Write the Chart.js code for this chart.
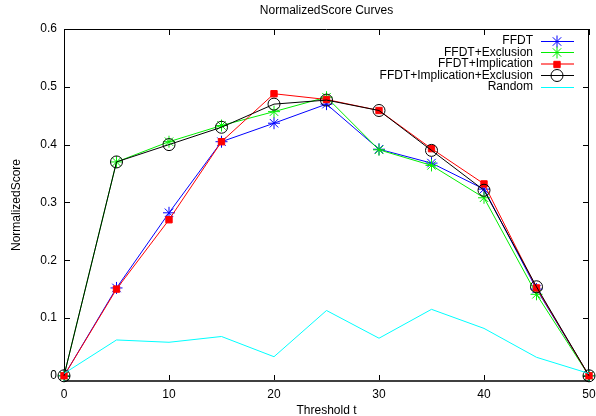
<!DOCTYPE html>
<html>
<head>
<meta charset="utf-8">
<script src="https://cdn.jsdelivr.net/npm/chart.js@4/dist/chart.umd.min.js"></script>
<style>
  html, body { margin: 0; padding: 0; background: #fff; }
</style>
</head>
<body>
<canvas id="scoreChart" width="596" height="416"></canvas>
<script>
// --- data ---
const thresholds = [0, 5, 10, 15, 20, 25, 30, 35, 40, 45, 50];
const ffdt        = [0, 0.152, 0.282, 0.405, 0.437, 0.470, 0.392, 0.368, 0.323, 0.150, 0];
const exclusion   = [0, 0.370, 0.405, 0.433, 0.457, 0.482, 0.391, 0.364, 0.308, 0.141, 0];
const implication = [0, 0.150, 0.270, 0.405, 0.488, 0.478, 0.459, 0.393, 0.332, 0.152, 0];
const implExcl    = [0, 0.370, 0.400, 0.430, 0.470, 0.477, 0.459, 0.390, 0.321, 0.154, 0];
const randomScore = [0.004, 0.062, 0.058, 0.068, 0.033, 0.113, 0.065, 0.115, 0.082, 0.032, 0.004];

const seriesNames = ['FFDT', 'FFDT+Exclusion', 'FFDT+Implication', 'FFDT+Implication+Exclusion', 'Random'];
const xTicks = [0, 10, 20, 30, 40, 50];
const yTicks = [0, 0.1, 0.2, 0.3, 0.4, 0.5, 0.6];

const FONT = '"Liberation Sans", Arial, sans-serif';

function points(values) {
  return thresholds.map((t, i) => ({ x: t, y: values[i] }));
}

function series(i, values, color, style, radius, fill) {
  return {
    label: seriesNames[i],
    data: points(values),
    borderColor: color,
    backgroundColor: fill,
    borderWidth: 1,
    pointStyle: style,
    pointRadius: radius,
    pointBorderColor: color,
    pointBackgroundColor: fill,
    pointBorderWidth: 1,
    tension: 0,
    clip: false,
    order: 5 - i
  };
}

// gnuplot-like frame, inward ticks, title and legend
const framePlugin = {
  id: 'frame',
  beforeDatasetsDraw(chart) {
    const { ctx, chartArea: a, scales } = chart;
    ctx.save();
    ctx.strokeStyle = '#000';
    ctx.lineWidth = 1;
    ctx.beginPath();
    ctx.moveTo(a.left + 0.5, a.bottom);
    ctx.lineTo(a.left + 0.5, a.top + 0.5);
    ctx.lineTo(a.right - 0.5, a.top + 0.5);
    ctx.lineTo(a.right - 0.5, a.bottom);
    xTicks.forEach(v => {
      const px = Math.round(scales.x.getPixelForValue(v)) + 0.5;
      ctx.moveTo(px, a.top); ctx.lineTo(px, a.top + 6);
      ctx.moveTo(px, a.bottom); ctx.lineTo(px, a.bottom - 6);
    });
    yTicks.forEach(v => {
      const py = Math.round(scales.y.getPixelForValue(v)) + 0.5;
      ctx.moveTo(a.left, py); ctx.lineTo(a.left + 6, py);
      ctx.moveTo(a.right, py); ctx.lineTo(a.right - 6, py);
    });
    ctx.stroke();
    ctx.strokeStyle = '#404040';
    ctx.lineWidth = 2;
    ctx.beginPath();
    ctx.moveTo(a.left, a.bottom);
    ctx.lineTo(a.right, a.bottom);
    ctx.stroke();

    ctx.fillStyle = '#000';
    ctx.font = '12px ' + FONT;
    ctx.textAlign = 'center';
    ctx.textBaseline = 'middle';
    ctx.fillText('NormalizedScore Curves', (a.left + a.right) / 2, 11);
    ctx.restore();
  },
  afterDatasetsDraw(chart) {
    const { ctx, chartArea: a } = chart;
    ctx.save();
    ctx.font = '12px ' + FONT;
    ctx.textAlign = 'right';
    ctx.textBaseline = 'middle';
    chart.data.datasets.forEach((ds, i) => {
      const y = 40.7 + i * 11.5;
      const ly = Math.round(y) + 0.5;
      ctx.fillStyle = '#000';
      ctx.fillText(ds.label, a.right - 56, y);
      // the red sample comes out as a wider, softer stroke in the original
      const soft = ds.pointStyle === 'rect';
      ctx.strokeStyle = soft ? 'rgba(255,0,0,0.55)' : ds.borderColor;
      ctx.lineWidth = soft ? 2 : 1;
      ctx.beginPath();
      ctx.moveTo(a.right - 48, soft ? Math.round(y) : ly);
      ctx.lineTo(a.right - 15, soft ? Math.round(y) : ly);
      ctx.stroke();
      if (ds.pointRadius > 0) {
        ctx.strokeStyle = ds.borderColor;
        ctx.lineWidth = 1;
        ctx.fillStyle = ds.pointBackgroundColor;
        Chart.helpers.drawPoint(ctx, {
          pointStyle: ds.pointStyle, radius: ds.pointRadius, rotation: 0, borderWidth: 1
        }, a.right - 32, ly);
      }
    });
    ctx.restore();
  }
};

new Chart(document.getElementById('scoreChart'), {
  type: 'line',
  data: {
    datasets: [
      series(0, ffdt, '#0000ff', 'star', 6, '#0000ff'),
      series(1, exclusion, '#00ee00', 'star', 6, '#00ee00'),
      series(2, implication, '#ff0000', 'rect', 4.5, '#ff0000'),
      series(3, implExcl, '#000000', 'circle', 6, 'rgba(0,0,0,0)'),
      series(4, randomScore, '#00ffff', 'circle', 0, '#00ffff')
    ]
  },
  options: {
    responsive: false,
    animation: false,
    layout: { padding: { top: 29, right: 7, left: 0, bottom: 0 } },
    plugins: {
      legend: { display: false },
      title: { display: false },
      tooltip: { enabled: false }
    },
    scales: {
      x: {
        type: 'linear',
        min: 0,
        max: 50,
        afterBuildTicks: s => { s.ticks = xTicks.map(v => ({ value: v })); },
        afterFit: s => { s.height = 35; s.paddingLeft = 0; s.paddingRight = 0; },
        grid: { display: false, drawTicks: false },
        border: { display: false },
        ticks: { color: '#000', padding: 6, font: { family: FONT, size: 12 } },
        title: {
          display: true, text: 'Threshold t', color: '#000',
          font: { family: FONT, size: 12 }, padding: { top: 0, bottom: -1.5 }
        }
      },
      y: {
        min: -0.009,
        max: 0.6,
        afterBuildTicks: s => { s.ticks = yTicks.map(v => ({ value: v })); },
        afterFit: s => { s.width = 64; },
        grid: { display: false, drawTicks: false },
        border: { display: false },
        ticks: {
          color: '#000', padding: 7, font: { family: FONT, size: 12 },
          callback: v => v === 0 ? '0' : v.toFixed(1)
        },
        title: {
          display: true, text: 'NormalizedScore', color: '#000',
          font: { family: FONT, size: 12 }, padding: { top: 9, bottom: 0 }
        }
      }
    }
  },
  plugins: [framePlugin]
});
</script>
</body>
</html>
